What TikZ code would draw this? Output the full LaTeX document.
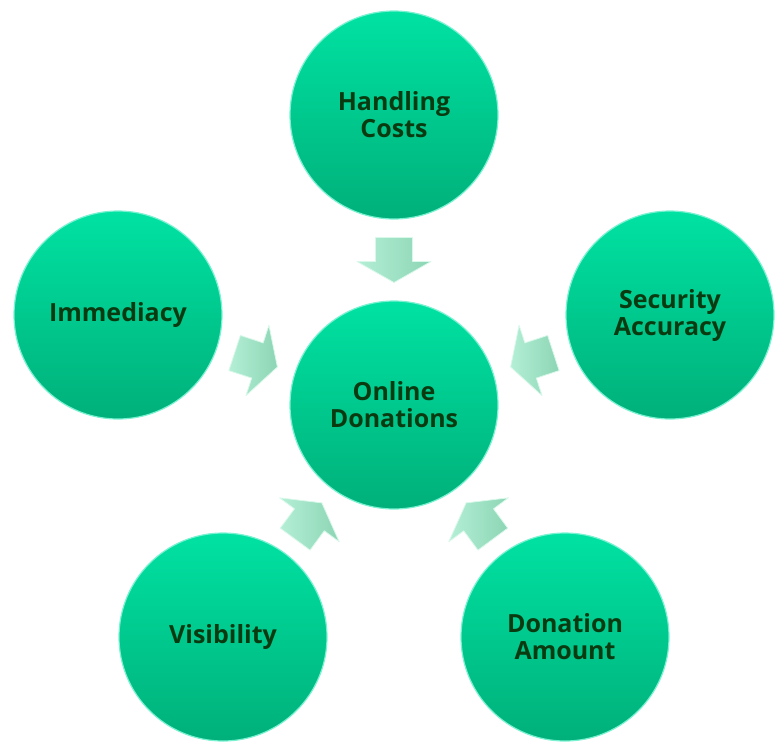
\documentclass[tikz,border=0pt]{standalone}
\usepackage{fontspec}
\setmainfont{Open Sans}
\definecolor{ctop}{HTML}{00E2A2}
\definecolor{cbot}{HTML}{00B07A}
\definecolor{crim}{HTML}{7AF2D2}
\definecolor{ctxt}{HTML}{0A3A10}
\definecolor{atop}{HTML}{B4EFD6}
\definecolor{abot}{HTML}{8CD5B4}
\definecolor{aedge}{HTML}{D8F8EA}
\tikzset{
  bubble/.style={circle, minimum size=208pt, inner sep=0pt, top color=ctop, bottom color=cbot,
    draw=crim, line width=1.2pt, text=ctxt, align=center,
    font=\bfseries\fontsize{25}{27}\selectfont},
  barrow/.pic={
    \shade[left color=atop, right color=abot, draw=aedge, line width=0.8pt, line join=round]
      (-22.5,-18.5) -- (1.5,-18.5) -- (1.5,-37) -- (22.5,0) -- (1.5,37) -- (1.5,18.5) -- (-22.5,18.5) -- cycle;
  }
}
\begin{document}
\begin{tikzpicture}[x=1pt,y=-1pt]
\useasboundingbox (0,0) rectangle (775,742);
\node[bubble] (on) at (394,405) {Online\\Donations};
\node[bubble] (hc) at (394,115) {Handling\\Costs};
\node[bubble] (im) at (118,315) {Immediacy};
\node[bubble] (sa) at (670,315) {Security\\Accuracy};
\node[bubble] (vi) at (223,637) {Visibility};
\node[bubble] (da) at (565,637) {Donation\\Amount};
\foreach \s in {hc,im,sa,vi,da}{
  \path (\s.center) -- (on.center) pic[pos=0.5, sloped, allow upside down] {barrow};
}
\end{tikzpicture}
\end{document}
